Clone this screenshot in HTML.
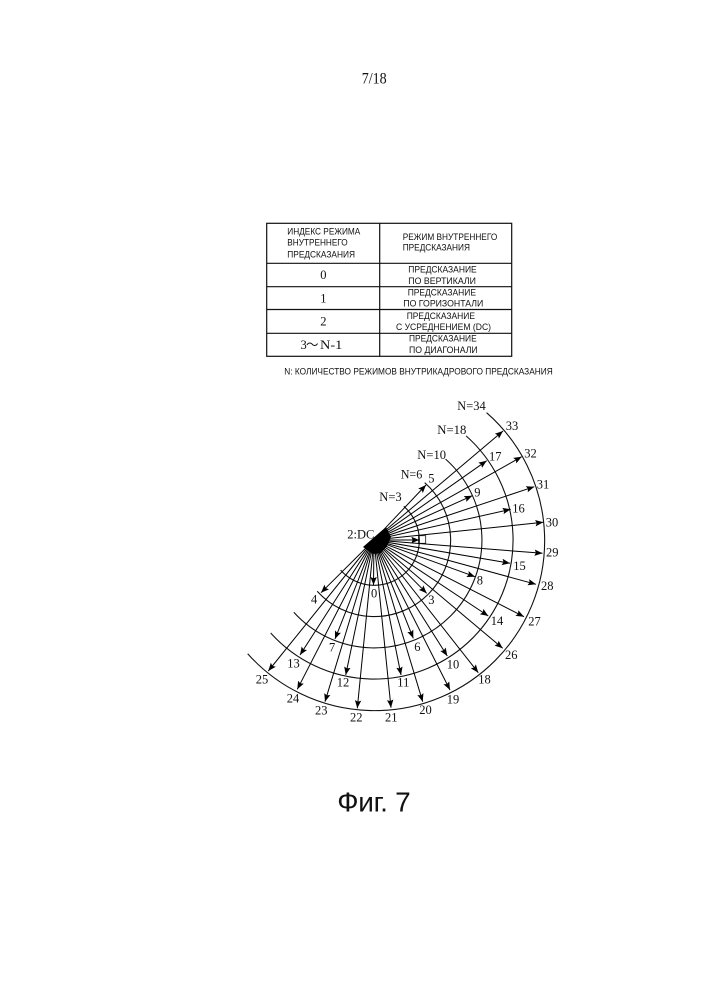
<!DOCTYPE html>
<html><head><meta charset="utf-8"><style>
html,body{margin:0;padding:0;background:#fff}
svg{display:block;filter:blur(0.35px)}
.s{font-family:"Liberation Serif",serif;font-size:12.5px;fill:#111}
.a{font-family:"Liberation Sans",sans-serif;font-size:8.8px;fill:#111}
.l{stroke:#111;stroke-width:1.1;fill:none}
.r line{stroke:#000;stroke-width:1;marker-end:url(#h)}
</style></head><body>
<svg xmlns="http://www.w3.org/2000/svg" width="707" height="1000" viewBox="0 0 707 1000">
<defs><marker id="h" markerUnits="userSpaceOnUse" markerWidth="10" markerHeight="8" refX="8" refY="4" orient="auto"><path d="M0 .8L8 4L0 7.2L1.4 4Z" fill="#000"/></marker></defs>
<rect width="707" height="1000" fill="#fff"/>
<text x="361.7" y="83.3" font-family="Liberation Serif" font-size="15.5" textLength="25" lengthAdjust="spacingAndGlyphs" fill="#111">7/18</text>

<g class="l" style="stroke-width:1.2">
<rect x="266.7" y="223.3" width="245" height="133"/>
<path d="M379.7 223.3V356.3M266.7 263.3H511.7M266.7 286.7H511.7M266.7 309.5H511.7M266.7 333.3H511.7"/>
</g>
<g class="a">
<text x="287.3" y="234.3" textLength="73" lengthAdjust="spacingAndGlyphs">ИНДЕКС РЕЖИМА</text>
<text x="287.3" y="245.7" textLength="60.4" lengthAdjust="spacingAndGlyphs">ВНУТРЕННЕГО</text>
<text x="287.3" y="257.3" textLength="67.7" lengthAdjust="spacingAndGlyphs">ПРЕДСКАЗАНИЯ</text>
<text x="402.7" y="240" textLength="94.6" lengthAdjust="spacingAndGlyphs">РЕЖИМ ВНУТРЕННЕГО</text>
<text x="402.7" y="250.7" textLength="67.3" lengthAdjust="spacingAndGlyphs">ПРЕДСКАЗАНИЯ</text>
<text x="408.3" y="272.7" textLength="68.4" lengthAdjust="spacingAndGlyphs">ПРЕДСКАЗАНИЕ</text>
<text x="408.3" y="284" textLength="67.7" lengthAdjust="spacingAndGlyphs">ПО  ВЕРТИКАЛИ</text>
<text x="407.7" y="295.3" textLength="68.3" lengthAdjust="spacingAndGlyphs">ПРЕДСКАЗАНИЕ</text>
<text x="403.3" y="306.7" textLength="80" lengthAdjust="spacingAndGlyphs">ПО  ГОРИЗОНТАЛИ</text>
<text x="406.7" y="319" textLength="68.3" lengthAdjust="spacingAndGlyphs">ПРЕДСКАЗАНИЕ</text>
<text x="396" y="330" textLength="95" lengthAdjust="spacingAndGlyphs">С УСРЕДНЕНИЕМ  (DC)</text>
<text x="409" y="341.7" textLength="67.7" lengthAdjust="spacingAndGlyphs">ПРЕДСКАЗАНИЕ</text>
<text x="409" y="353" textLength="68.7" lengthAdjust="spacingAndGlyphs">ПО  ДИАГОНАЛИ</text>
<text x="284.3" y="374.3" textLength="268.4" lengthAdjust="spacingAndGlyphs">N: КОЛИЧЕСТВО РЕЖИМОВ ВНУТРИКАДРОВОГО ПРЕДСКАЗАНИЯ</text>
</g>
<g class="s">
<text x="320.2" y="279">0</text>
<text x="320.2" y="302.3">1</text>
<text x="320.2" y="325.7">2</text>
<text x="300.5" y="349">3</text>
<text x="306" y="349" font-family="'Noto Sans CJK JP',sans-serif" font-size="12.5">～</text>
<text x="320" y="349" textLength="22.3" lengthAdjust="spacingAndGlyphs">N-1</text>
</g>

<g class="l">
<path d="M486.6 412.7A170 170 0 1 1 247.7 653.7"/>
<path d="M466.1 435.9A139 139 0 1 1 270.7 633"/>
<path d="M445.6 459.1A108 108 0 1 1 293.8 612.3"/>
<path d="M424.7 482.7A76.5 76.5 0 1 1 317.2 591.2"/>
<path d="M403.8 506.3A45 45 0 1 1 340.6 570.1"/>
<rect x="418.5" y="535.7" width="7.2" height="7.6" stroke-width=".8"/>
</g>
<g class="r">
<line x1="374" y1="540" x2="503" y2="431"/>
<line x1="374" y1="540" x2="486.7" y2="460.7"/>
<line x1="374" y1="540" x2="521.7" y2="456.7"/>
<line x1="374" y1="540" x2="426" y2="485"/>
<line x1="374" y1="540" x2="472.3" y2="495.7"/>
<line x1="374" y1="540" x2="534.3" y2="486.7"/>
<line x1="374" y1="540" x2="510.7" y2="509.3"/>
<line x1="374" y1="540" x2="543.3" y2="522.3"/>
<line x1="374" y1="540" x2="419.3" y2="540"/>
<line x1="374" y1="540" x2="542.5" y2="553.3"/>
<line x1="374" y1="540" x2="510" y2="563.3"/>
<line x1="374" y1="540" x2="475" y2="576.7"/>
<line x1="374" y1="540" x2="536" y2="584.3"/>
<line x1="374" y1="540" x2="426.7" y2="593.3"/>
<line x1="374" y1="540" x2="488.3" y2="616"/>
<line x1="374" y1="540" x2="524" y2="616.7"/>
<line x1="374" y1="540" x2="502.7" y2="648.3"/>
<line x1="374" y1="540" x2="413.3" y2="638.3"/>
<line x1="374" y1="540" x2="447.3" y2="656"/>
<line x1="374" y1="540" x2="478.3" y2="672.7"/>
<line x1="374" y1="540" x2="450" y2="690"/>
<line x1="374" y1="540" x2="401" y2="675"/>
<line x1="374" y1="540" x2="422.7" y2="701.7"/>
<line x1="374" y1="540" x2="391" y2="707.7"/>
<line x1="374" y1="540" x2="373.5" y2="585"/>
<line x1="374" y1="540" x2="321" y2="592.7"/>
<line x1="374" y1="540" x2="335" y2="639"/>
<line x1="374" y1="540" x2="345.7" y2="675"/>
<line x1="374" y1="540" x2="300" y2="655"/>
<line x1="374" y1="540" x2="357.3" y2="708.3"/>
<line x1="374" y1="540" x2="325" y2="701.7"/>
<line x1="374" y1="540" x2="297.3" y2="689.3"/>
<line x1="374" y1="540" x2="268.3" y2="671"/>
</g>
<path d="M386 527L391 537L387 546L381 553L373 554L363 547Z" fill="#000"/>

<g class="s">
<text x="457.3" y="410" textLength="28.4" lengthAdjust="spacingAndGlyphs">N=34</text>
<text x="505.7" y="430">33</text>
<text x="437.3" y="434" textLength="29" lengthAdjust="spacingAndGlyphs">N=18</text>
<text x="489" y="460.7">17</text>
<text x="524.3" y="457.7">32</text>
<text x="417.3" y="459" textLength="28.7" lengthAdjust="spacingAndGlyphs">N=10</text>
<text x="400.7" y="478.3" textLength="21.6" lengthAdjust="spacingAndGlyphs">N=6</text>
<text x="428.3" y="482.7">5</text>
<text x="379.3" y="501" textLength="22.4" lengthAdjust="spacingAndGlyphs">N=3</text>
<text x="474.3" y="496.7">9</text>
<text x="536.7" y="488.3">31</text>
<text x="512.3" y="512.7">16</text>
<text x="545.7" y="526.7">30</text>
<text x="347.3" y="538.3" textLength="27" lengthAdjust="spacingAndGlyphs">2:DC</text>
<text x="546" y="556.7">29</text>
<text x="513.3" y="570">15</text>
<text x="476.7" y="584.3">8</text>
<text x="541" y="590">28</text>
<text x="428.3" y="604">3</text>
<text x="490.7" y="625">14</text>
<text x="528.3" y="625.7">27</text>
<text x="505" y="659">26</text>
<text x="414.3" y="651">6</text>
<text x="446.7" y="668.3">10</text>
<text x="478.3" y="683.3">18</text>
<text x="446.7" y="703.3">19</text>
<text x="397.3" y="686.7">11</text>
<text x="419.3" y="714">20</text>
<text x="385" y="721.7">21</text>
<text x="371" y="597.7">0</text>
<text x="311" y="603.3">4</text>
<text x="329" y="651.7">7</text>
<text x="336.7" y="686.7">12</text>
<text x="287.3" y="667.7">13</text>
<text x="350" y="721.7">22</text>
<text x="315" y="714.7">23</text>
<text x="286.7" y="702.7">24</text>
<text x="255.7" y="683.3">25</text>
</g>
<text x="337.3" y="811.7" font-family="Liberation Sans" font-size="28" textLength="73.4" lengthAdjust="spacing" fill="#111">Фиг. 7</text>
</svg>
</body></html>
